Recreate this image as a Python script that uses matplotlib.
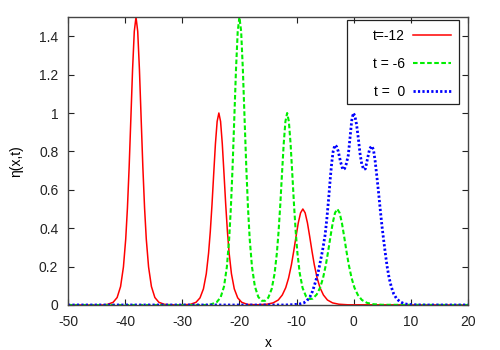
import numpy as np
import matplotlib
matplotlib.use('Agg')
import matplotlib.pyplot as plt
from matplotlib.patches import Rectangle
from matplotlib.ticker import FormatStrFormatter

plt.rcParams['font.family'] = ['Liberation Sans', 'DejaVu Sans']

# eta(x,t), t = -12
red_x = [-50, -44, -43.1, -42.1, -41.4, -40.8, -40.3, -39.9, -39.6, -39.3, -39.0,
         -38.7, -38.4, -38.1, -37.8, -37.5, -37.2, -36.9, -36.6, -36.3, -35.9,
         -35.4, -34.8, -34.1, -33.1, -31.0,
         -28.6, -27.6, -26.9, -26.3, -25.8, -25.4, -25.1, -24.8, -24.5, -24.2,
         -23.9, -23.6, -23.3, -23.0, -22.7, -22.4, -22.1, -21.8, -21.4, -20.9,
         -20.3, -19.6, -18.6, -17.0,
         -15.2, -14.1, -13.2, -12.5, -11.9, -11.4, -10.9, -10.5, -10.1, -9.7,
         -9.3, -8.9, -8.5, -8.1, -7.7, -7.3, -6.9, -6.4, -5.9, -5.3, -4.6,
         -3.7, -2.6, -1.0, 20]
red_y = [0, 0, 0.003, 0.014, 0.039, 0.096, 0.198, 0.343, 0.505, 0.718, 0.971,
         1.227, 1.425, 1.5, 1.425, 1.227, 0.971, 0.718, 0.505, 0.343, 0.198,
         0.096, 0.039, 0.014, 0.003, 0.0,
         0.003, 0.014, 0.037, 0.084, 0.163, 0.270, 0.382, 0.523, 0.684, 0.840,
         0.956, 1.0, 0.956, 0.840, 0.684, 0.523, 0.382, 0.270, 0.163, 0.084,
         0.037, 0.014, 0.003, 0.001,
         0.004, 0.011, 0.026, 0.052, 0.090, 0.140, 0.210, 0.280, 0.356, 0.428,
         0.480, 0.5, 0.480, 0.428, 0.356, 0.280, 0.210, 0.140, 0.090, 0.052, 0.026,
         0.011, 0.004, 0.001, 0]

# t = -6
green_x = [-50, -26, -25.0, -24.0, -23.3, -22.7, -22.2, -21.8, -21.5, -21.2, -20.9,
           -20.6, -20.3, -20.0, -19.7, -19.4, -19.1, -18.8, -18.5, -18.2, -17.8,
           -17.3, -16.7, -16.1, -15.5,
           -14.95, -14.35, -13.85, -13.45, -13.15, -12.85, -12.55, -12.25, -11.95,
           -11.65, -11.35, -11.05, -10.75, -10.45, -10.15, -9.85, -9.45, -8.95,
           -8.35, -7.65, -7.17,
           -6.47, -5.87, -5.37, -4.87, -4.47, -4.07, -3.67, -3.27, -2.87, -2.47,
           -2.07, -1.67, -1.27, -0.87, -0.37, 0.13, 0.73, 1.43, 2.33, 3.43, 5.0, 20]
green_y = [0, 0, 0.003, 0.014, 0.039, 0.096, 0.198, 0.343, 0.505, 0.718, 0.971,
           1.227, 1.425, 1.5, 1.425, 1.227, 0.971, 0.718, 0.505, 0.343, 0.198,
           0.097, 0.042, 0.022, 0.022,
           0.038, 0.084, 0.163, 0.270, 0.382, 0.523, 0.684, 0.840, 0.956,
           1.0, 0.956, 0.840, 0.684, 0.523, 0.382, 0.270, 0.166, 0.089,
           0.045, 0.031, 0.033,
           0.055, 0.091, 0.140, 0.210, 0.280, 0.356, 0.428, 0.480, 0.5, 0.480,
           0.428, 0.356, 0.280, 0.210, 0.140, 0.090, 0.052, 0.026, 0.011, 0.004, 0.001, 0]

# t = 0
blue_x = [-50, -12, -10.5, -9.5, -8.8, -8.2, -7.65, -7.2, -6.77, -6.3, -5.9, -5.45,
          -5.0, -4.7, -4.4, -4.1, -3.85, -3.6, -3.3, -3.0, -2.7, -2.3, -1.9, -1.6,
          -1.3, -0.95, -0.65, -0.35, -0.07, 0.2, 0.5, 0.8, 1.1, 1.4, 1.75, 2.05,
          2.4, 2.8, 3.15, 3.45, 3.75, 4.05, 4.35, 4.65, 4.95, 5.25, 5.55, 5.85,
          6.2, 6.6, 7.0, 7.5, 8.1, 8.8, 9.5, 10.5, 12, 20]
blue_y = [0, 0, 0.002, 0.005, 0.010, 0.022, 0.043, 0.072, 0.113, 0.160, 0.217, 0.285,
          0.366, 0.45, 0.55, 0.66, 0.74, 0.80, 0.833, 0.825, 0.80, 0.745, 0.705, 0.71,
          0.735, 0.78, 0.87, 0.96, 1.0, 0.985, 0.94, 0.87, 0.79, 0.735, 0.705, 0.71,
          0.76, 0.815, 0.828, 0.81, 0.75, 0.67, 0.585, 0.495, 0.41, 0.335, 0.265, 0.20,
          0.14, 0.092, 0.058, 0.033, 0.017, 0.007, 0.003, 0.001, 0, 0]

fig = plt.figure(figsize=(5, 3.5), dpi=100)
ax = fig.add_axes([0.136, 0.1286, 0.8, 0.8228])

ax.plot(red_x, red_y, color='#ff0000', lw=1.1, label='t=-12')
ax.plot(green_x, green_y, color='#00ee00', lw=1.5, ls=(0, (2.2, 1.2)), label='t = -6')
ax.plot(blue_x, blue_y, color='#0000ff', lw=2.0, ls=(0, (0.8, 0.8)), label='t =  0')

ax.set_xlim(-50, 20)
ax.set_ylim(0, 1.5)
ax.set_xticks(np.arange(-50, 21, 10))
ax.set_yticks(np.arange(0, 1.41, 0.2))
ax.xaxis.set_major_formatter(FormatStrFormatter('%g'))
ax.yaxis.set_major_formatter(FormatStrFormatter('%g'))
ax.tick_params(direction='in', top=True, right=True, length=4, width=0.8,
               labelsize=10, pad=7, colors='#222222')
for s in ax.spines.values():
    s.set_color('#444444')
    s.set_linewidth(1.0)

ax.set_xlabel('x', fontsize=10, labelpad=5)
ax.set_ylabel('η(x,t)', fontsize=10, labelpad=11)

# gnuplot-style key: label then sample, boxed
leg = ax.legend(loc='upper right', markerfirst=False, fontsize=10, frameon=False,
                handlelength=2.7, labelspacing=1.0, borderpad=0.0,
                handletextpad=0.6, borderaxespad=0.0,
                bbox_to_anchor=(451 / 500, 1 - 29 / 350),
                bbox_transform=fig.transFigure)
fig.add_artist(Rectangle((347 / 500, 1 - 104 / 350), 112 / 500, 84 / 350,
                         transform=fig.transFigure, fill=False,
                         edgecolor='#222222', lw=0.9))

fig.savefig('out.png', dpi=100)
